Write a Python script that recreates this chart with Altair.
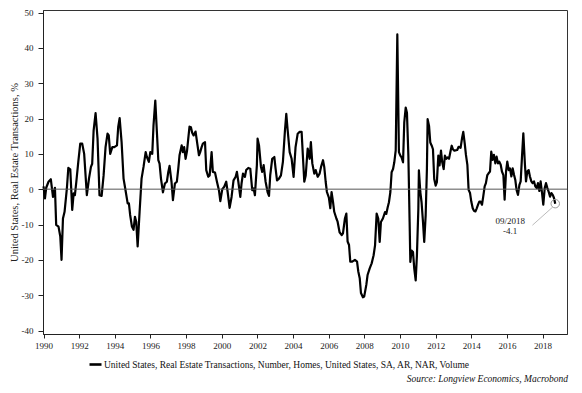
import altair as alt
import pandas as pd

series_name = "United States, Real Estate Transactions, Number, Homes, United States, SA, AR, NAR, Volume"
y_title = "United States, Real Estate Transactions, %"
source_text = "Source: Longview Economics, Macrobond"
last_label = "09/2018"

years = [
    1990.00, 1990.08, 1990.15, 1990.28, 1990.41, 1990.53, 1990.64, 1990.71, 1990.84, 1990.94,
    1991.01, 1991.09, 1991.18, 1991.31, 1991.39, 1991.50, 1991.61, 1991.69, 1991.76, 1991.84,
    1991.95, 1992.06, 1992.17, 1992.28, 1992.43, 1992.55, 1992.66, 1992.73, 1992.81, 1992.92,
    1993.03, 1993.14, 1993.26, 1993.37, 1993.48, 1993.59, 1993.66, 1993.74, 1993.86, 1993.97,
    1994.12, 1994.19, 1994.27, 1994.38, 1994.49, 1994.60, 1994.72, 1994.79, 1994.86, 1994.96,
    1995.05, 1995.13, 1995.20, 1995.28, 1995.39, 1995.50, 1995.61, 1995.73, 1995.80, 1995.91,
    1995.99,
    1996.10, 1996.17, 1996.27, 1996.36, 1996.44, 1996.51, 1996.59, 1996.70, 1996.81, 1996.92,
    1997.00, 1997.07, 1997.18, 1997.26, 1997.37, 1997.48, 1997.56, 1997.63, 1997.75, 1997.82,
    1997.89, 1997.97, 1998.05, 1998.12, 1998.19, 1998.27, 1998.34, 1998.42, 1998.53, 1998.64,
    1998.72, 1998.79, 1998.87, 1998.94, 1999.06, 1999.13, 1999.24, 1999.32, 1999.43, 1999.50,
    1999.62, 1999.73, 1999.84, 1999.92, 2000.03, 2000.14, 2000.25, 2000.33, 2000.44, 2000.55,
    2000.66, 2000.78, 2000.85, 2000.93, 2001.04, 2001.11, 2001.19, 2001.30, 2001.37, 2001.49,
    2001.60, 2001.71, 2001.79, 2001.86, 2001.97,
    2002.01, 2002.09, 2002.20, 2002.27, 2002.35, 2002.46, 2002.57, 2002.65, 2002.72, 2002.83,
    2002.95, 2003.02, 2003.10, 2003.21, 2003.32, 2003.43, 2003.54, 2003.62, 2003.69, 2003.81,
    2003.92, 2004.03, 2004.14, 2004.26, 2004.37, 2004.48, 2004.56, 2004.63, 2004.71, 2004.82,
    2004.93, 2005.00, 2005.08, 2005.19, 2005.27, 2005.38, 2005.49, 2005.57, 2005.68, 2005.75,
    2005.83, 2005.90, 2006.01, 2006.09, 2006.16, 2006.24, 2006.31, 2006.43, 2006.50, 2006.61,
    2006.73, 2006.80, 2006.91, 2006.99, 2007.06, 2007.14, 2007.21, 2007.32, 2007.47, 2007.59,
    2007.66, 2007.74, 2007.81, 2007.92, 2007.99,
    2008.11, 2008.18, 2008.30, 2008.41, 2008.52, 2008.60, 2008.69, 2008.78, 2008.86, 2008.93,
    2009.04, 2009.16, 2009.23, 2009.31, 2009.38, 2009.46, 2009.53, 2009.61, 2009.68, 2009.76,
    2009.85, 2009.94, 2010.02, 2010.09, 2010.17, 2010.24, 2010.32, 2010.39, 2010.47, 2010.54,
    2010.58, 2010.65, 2010.73, 2010.80, 2010.88, 2010.95, 2011.03, 2011.06, 2011.14, 2011.21,
    2011.29, 2011.36, 2011.44, 2011.51, 2011.55, 2011.63, 2011.70, 2011.78, 2011.85, 2011.92,
    2012.00, 2012.07, 2012.15, 2012.22, 2012.30, 2012.37, 2012.45, 2012.52, 2012.60, 2012.67,
    2012.75, 2012.82, 2012.90, 2012.97, 2013.05,
    2013.21, 2013.29, 2013.40, 2013.48, 2013.55, 2013.63, 2013.70, 2013.78, 2013.85, 2013.93,
    2014.00, 2014.08, 2014.15, 2014.23, 2014.30, 2014.38, 2014.45, 2014.52, 2014.60, 2014.67,
    2014.75, 2014.82, 2014.90, 2014.97, 2015.05, 2015.12, 2015.20, 2015.27, 2015.35, 2015.42,
    2015.50, 2015.57, 2015.65, 2015.72, 2015.80, 2015.87, 2015.95, 2016.02, 2016.10, 2016.17,
    2016.25, 2016.32, 2016.40, 2016.47, 2016.54, 2016.62, 2016.70, 2016.77, 2016.84, 2016.92,
    2017.01, 2017.07, 2017.14, 2017.22, 2017.29, 2017.37, 2017.44, 2017.52, 2017.59, 2017.67,
    2017.74, 2017.82, 2017.89, 2017.97, 2018.04, 2018.12, 2018.19, 2018.27, 2018.34, 2018.42,
    2018.49, 2018.57, 2018.64, 2018.71,
]

values = [
    0.8, -2.6, 0.4, 2.1, 2.8, -2.2, 0.4, -10.1, -10.6, -13.4,
    -20.0, -8.3, -6.4, 0.2, 6.0, 5.6, -5.9, -1.2, -1.7, 2.1,
    7.7, 12.9, 12.9, 10.0, -1.7, 3.0, 6.3, 7.2, 16.6, 21.5,
    14.3, -1.7, -1.9, 3.9, 11.9, 15.7, 15.2, 10.0, 11.9, 11.9,
    12.4, 17.6, 20.1, 13.3, 3.0, -0.3, -4.0, -4.0, -7.3, -10.6,
    -11.5, -7.8, -9.2, -16.2, -6.4, 3.0, 6.3, 10.5, 9.1, 7.7,
    10.5,
    10.0, 18.0, 25.1, 16.2, 8.2, 7.2, 3.0, -0.9, 1.6, 2.1,
    4.9, 6.6, 2.1, -3.1, 1.6, 2.1, 5.8, 9.6, 12.4, 10.5,
    11.9, 8.6, 10.8, 14.3, 17.7, 17.5, 16.0, 15.2, 16.3, 12.4,
    9.6, 10.5, 11.9, 12.9, 13.3, 5.4, 3.5, 3.9, 10.5, 4.9,
    4.7, 2.1, -0.3, -3.4, 0.0, 0.7, 2.1, -0.8, -5.3, -2.2,
    2.5, 3.5, 4.9, 2.1, -2.2, 1.6, 4.4, 3.5, 5.4, 6.0,
    5.8, -0.3, 0.2, -1.7, 6.8,
    14.3, 12.4, 6.3, 4.9, 6.8, 2.1, -0.8, -1.9, 4.0, 8.6,
    9.1, 5.8, 2.5, 3.0, 3.9, 7.7, 16.2, 21.3, 17.1, 10.5,
    8.6, 3.5, 11.9, 15.7, 16.2, 16.2, 8.6, 2.1, 3.9, 11.5,
    8.6, 13.3, 7.3, 4.4, 5.4, 3.5, 4.4, 6.3, 8.2, 6.3,
    2.1, -0.8, -2.4, -5.4, -0.8, -3.5, -6.4, -8.3, -9.2, -12.2,
    -13.0, -12.5, -8.3, -6.9, -14.8, -15.8, -20.5, -20.5, -20.0, -20.5,
    -23.3, -25.2, -29.4, -30.6, -30.4,
    -27.1, -24.3, -22.4, -21.0, -18.7, -15.9, -6.9, -8.3, -14.9, -9.3,
    -8.3, -6.5, -7.0, -5.1, -3.7, -0.8, 4.8, 5.7, 7.6, 11.0,
    43.8, 10.5, 9.5, 9.0, 7.6, 18.9, 23.1, 21.6, 9.5, -9.3,
    -20.6, -17.4, -17.8, -22.5, -25.8, -18.7, -5.5, 5.3, -0.8, -3.7,
    -9.3, -14.9, -7.4, 5.7, 19.8, 17.9, 13.2, 12.3, 11.3, 2.9,
    1.0, 2.0, 9.5, 6.7, 10.9, 7.6, 5.7, 9.5, 8.6, 9.0,
    8.6, 10.4, 12.3, 11.3, 10.9,
    11.1, 12.0, 11.7, 14.4, 16.2, 13.0, 9.7, 6.9, -0.2, -1.1,
    -3.5, -5.4, -6.1, -6.3, -5.5, -4.4, -3.5, -3.5, -4.4, -2.1,
    0.8, 1.7, 4.0, 4.5, 5.0, 10.6, 8.3, 9.7, 7.3, 9.2,
    7.3, 7.8, 6.9, 5.0, 4.0, -3.0, 5.0, 7.8, 5.4, 5.9,
    3.6, 5.9, 4.0, 2.6, -0.2, -1.6, 1.2, 2.2, 8.7, 15.8,
    6.9, 2.2, 5.0, 5.4, 3.6, 2.2, 1.7, 2.2, 0.8, 0.3,
    1.7, -0.5, 2.2, -1.1, -4.4, 0.3, 1.7, 0.3, -0.7, -2.1,
    -1.1, -1.6, -2.5, -4.1,
]

x_ticks = list(range(1990, 2019, 2))
y_ticks = list(range(-40, 51, 10))

W, H = 524, 324
SERIF = "Liberation Serif"

df = pd.DataFrame({"year": years, "value": values, "series": series_name})
last_year, last_value = years[-1], values[-1]
last_df = pd.DataFrame({
    "year": [last_year], "value": [last_value],
    "date_label": [last_label], "value_label": [f"{last_value:.1f}"],
})
# leader line: offsets in data units from the last point (style only)
lead_df = pd.DataFrame({
    "year": [last_year - 0.14], "value": [last_value - 0.95],
    "year_end": [last_year - 1.28], "value_end": [last_value - 6.1],
})
zero_df = pd.DataFrame({"value": [0]})
source_df = pd.DataFrame({"t": [source_text]})

x_scale = alt.Scale(domain=[1989.97, 2019.37], nice=False, zero=False)
y_scale = alt.Scale(domain=[-40.99, 50.71], nice=False, zero=False)

x_axis = alt.Axis(values=x_ticks, format="d", grid=False, tickSize=4,
                  labelPadding=3, labelFlush=False, labelOverlap=False)
y_axis = alt.Axis(values=y_ticks, labelExpr="'' + datum.value", grid=False,
                  tickSize=5, labelPadding=5, labelOverlap=False, titleX=-24,
                  titleFont=SERIF, titleFontSize=10.5, titleFontWeight="normal",
                  titleColor="#222")


def xe():
    return alt.X("year:Q", scale=x_scale, title=None, axis=x_axis)


def ye():
    return alt.Y("value:Q", scale=y_scale, title=y_title, axis=y_axis)


line = alt.Chart(df).mark_line(strokeWidth=2.2, strokeJoin="round").encode(
    x=xe(), y=ye(),
    color=alt.Color("series:N", scale=alt.Scale(range=["#000000"]),
                    legend=alt.Legend(title=None, orient="none", legendX=45, legendY=347,
                                      symbolType="stroke", symbolSize=144, symbolStrokeWidth=2.6,
                                      labelFont=SERIF, labelFontSize=9.5, labelColor="#111",
                                      labelLimit=800, labelOffset=1, padding=0)),
)

zero_rule = alt.Chart(zero_df).mark_rule(color="#555555", strokeWidth=1).encode(y=ye())

circle = alt.Chart(last_df).mark_point(shape="circle", filled=False, size=72,
                                       color="#9a9a9a", strokeWidth=1, opacity=1).encode(
    x=xe(), y=ye())

leader = alt.Chart(lead_df).mark_rule(color="#aaaaaa", strokeWidth=0.8).encode(
    x=xe(), y=ye(), x2="year_end:Q", y2="value_end:Q")

date_text = alt.Chart(last_df).mark_text(font=SERIF, fontSize=9, color="#222",
                                         dx=-45, dy=17, align="center", baseline="middle").encode(
    x=xe(), y=ye(), text="date_label:N")
value_text = alt.Chart(last_df).mark_text(font=SERIF, fontSize=9, color="#222",
                                          dx=-45, dy=27, align="center", baseline="middle").encode(
    x=xe(), y=ye(), text="value_label:N")

source = alt.Chart(source_df).mark_text(font=SERIF, fontSize=9.5, fontStyle="italic", color="#111",
                                        align="right", baseline="middle").encode(
    text="t:N", x=alt.value(W + 1), y=alt.value(369))

chart = alt.layer(line, zero_rule, circle, leader, date_text, value_text, source).properties(
    width=W, height=H,
    autosize=alt.AutoSizeParams(type="none"),
    padding={"left": 35, "top": 2, "right": 7, "bottom": 50},
).configure_view(
    stroke="#333333", strokeWidth=1
).configure_axis(
    domainColor="#222222", tickColor="#222222", labelColor="#222222",
    labelFont=SERIF, labelFontSize=9,
)

chart.save("out.html", embed_options={"renderer": "svg", "actions": False})
